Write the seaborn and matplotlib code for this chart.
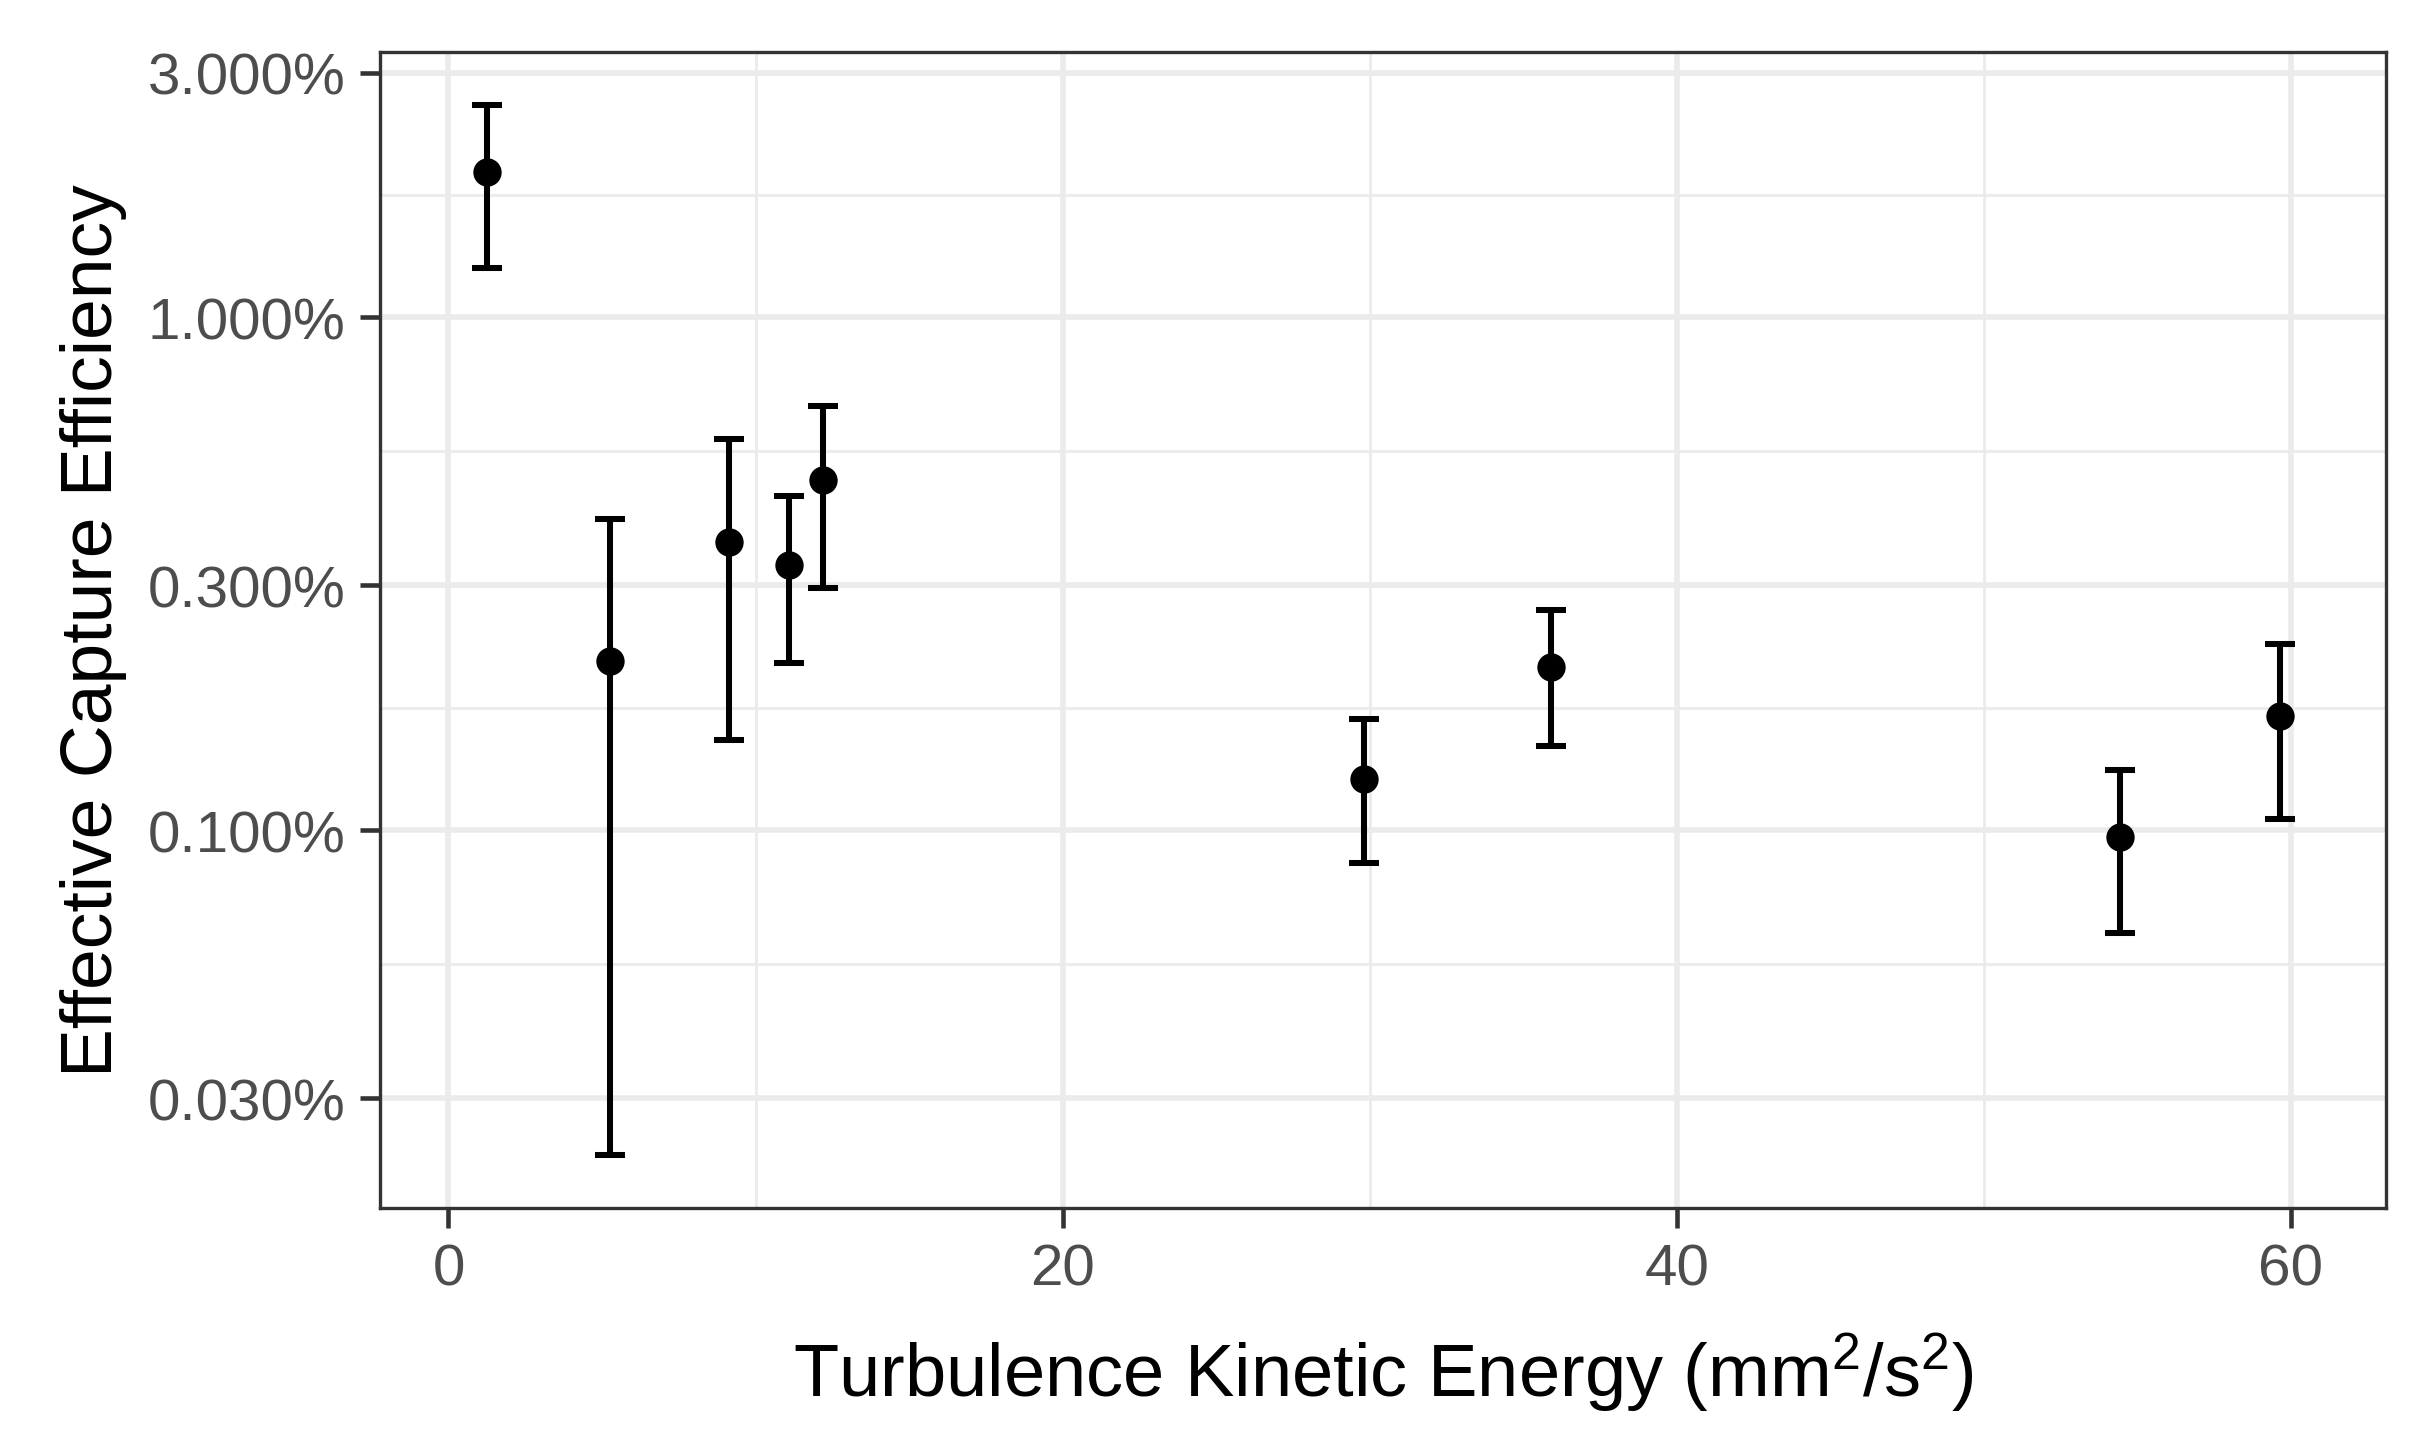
import numpy as np
import pandas as pd
import matplotlib
matplotlib.use("Agg")
import matplotlib.pyplot as plt
import seaborn as sns
from matplotlib.ticker import FixedLocator, FuncFormatter, NullFormatter

# values
tke = [1.24, 5.27, 9.13, 11.08, 12.21, 29.80, 35.92, 54.42, 59.63]          # mm^2/s^2
capture_pct = [1.917, 0.214, 0.365, 0.329, 0.482, 0.126, 0.208, 0.097, 0.167]  # %
capture_lo = [1.246, 0.0232, 0.150, 0.212, 0.297, 0.0863, 0.146, 0.0629, 0.105]
capture_hi = [2.599, 0.405, 0.580, 0.448, 0.672, 0.165, 0.269, 0.131, 0.231]

x_breaks = [0, 20, 40, 60]
x_minor = [10, 30, 50]
y_breaks = [0.03, 0.1, 0.3, 1.0, 3.0]
errorbar_width = 1.0

df = pd.DataFrame({
    "tke": tke,
    "capture": capture_pct,
    "lo": capture_lo,
    "hi": capture_hi,
})

# =========================
# STYLE (ggplot theme_bw look)
# =========================
sns.set_theme(style="white")
plt.rcParams["font.family"] = ["Liberation Sans", "DejaVu Sans"]
plt.rcParams["mathtext.fontset"] = "custom"
plt.rcParams["mathtext.rm"] = "Liberation Sans"
plt.rcParams["mathtext.it"] = "Liberation Sans"
plt.rcParams["mathtext.default"] = "regular"

fig = plt.figure(figsize=(8.12, 4.8333), dpi=300)
ax = fig.add_axes([0.156, 0.1662, 0.9795 - 0.156, 0.9634 - 0.1662])

ax.errorbar(
    df["tke"], df["capture"],
    yerr=[df["capture"] - df["lo"], df["hi"] - df["capture"]],
    fmt="none", ecolor="black", elinewidth=1.45,
    capsize=3.7, capthick=1.45, zorder=3
)
sns.scatterplot(
    data=df, x="tke", y="capture", ax=ax,
    color="black", s=6.8 ** 2, linewidth=0, zorder=4
)

# =========================
# SCALES
# =========================
ax.set_yscale("log")

# ggplot-style 5% expansion
xmin = df["tke"].min() - errorbar_width / 2
xmax = df["tke"].max() + errorbar_width / 2
xpad = 0.05 * (xmax - xmin)
ax.set_xlim(xmin - xpad, xmax + xpad)

lmin = np.log10(df["lo"].min())
lmax = np.log10(df["hi"].max())
lpad = 0.05 * (lmax - lmin)
ax.set_ylim(10 ** (lmin - lpad), 10 ** (lmax + lpad))

ax.xaxis.set_major_locator(FixedLocator(x_breaks))
ax.xaxis.set_minor_locator(FixedLocator(x_minor))
ax.yaxis.set_major_locator(FixedLocator(y_breaks))
logb = np.log10(y_breaks)
ax.yaxis.set_minor_locator(FixedLocator(10 ** ((logb[:-1] + logb[1:]) / 2)))
ax.yaxis.set_major_formatter(FuncFormatter(lambda v, p: f"{v:.3f}%"))
ax.yaxis.set_minor_formatter(NullFormatter())

# =========================
# GRID / SPINES / TICKS
# =========================
ax.grid(which="major", color="#EBEBEB", linewidth=1.35)
ax.grid(which="minor", color="#EBEBEB", linewidth=0.68)
ax.set_axisbelow(True)

for sp in ax.spines.values():
    sp.set_color("#333333")
    sp.set_linewidth(0.8)

ax.tick_params(which="major", length=4.8, width=1.1, color="#333333",
               labelsize=14, labelcolor="#4D4D4D", pad=3.5)
ax.tick_params(which="minor", length=0)
ax.tick_params(axis="y", which="major", left=True)
ax.tick_params(axis="x", which="major", bottom=True)

ax.set_xlabel("Turbulence Kinetic Energy (mm$^{2}$/s$^{2}$)",
              fontsize=17.8, color="black", labelpad=8)
ax.set_ylabel("Effective Capture Efficiency", fontsize=17.6,
              color="black", labelpad=5)

fig.savefig("out.png", dpi=300)
plt.close(fig)
